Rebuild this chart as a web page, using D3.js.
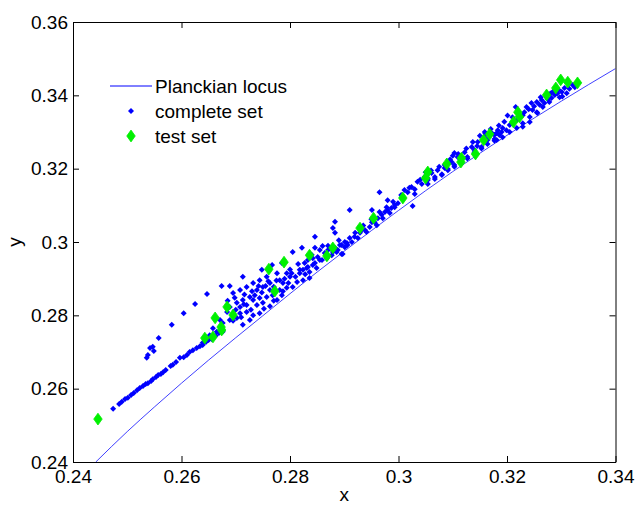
<!DOCTYPE html>
<html>
<head>
<meta charset="utf-8">
<script src="https://cdn.jsdelivr.net/npm/d3@7"></script>
<style>
  body { margin: 0; background: #fff; }
  svg text { font-family: "Liberation Sans", Arial, sans-serif; fill: #000; }
</style>
</head>
<body>
<div id="chart"></div>
<script>
// chromaticity data (x, y)
const locus = [
  [0.2442, 0.2400], [0.2500, 0.2483], [0.2550, 0.2550], [0.2600, 0.2615], [0.2650, 0.2678],
  [0.2700, 0.2739], [0.2750, 0.2799], [0.2800, 0.2859], [0.2850, 0.2918], [0.2900, 0.2975],
  [0.2950, 0.3031], [0.3000, 0.3086], [0.3050, 0.3140], [0.3100, 0.3192], [0.3150, 0.3242],
  [0.3200, 0.3291], [0.3250, 0.3338], [0.3300, 0.3384], [0.3350, 0.3429], [0.3400, 0.3473]
]

const completeSet = [
  // lower-left band
  [0.2474, 0.2545], [0.2485, 0.2558], [0.2490, 0.2564], [0.2496, 0.2572], [0.2501, 0.2575],
  [0.2507, 0.2583], [0.2512, 0.2588], [0.2518, 0.2596], [0.2523, 0.2602], [0.2529, 0.2607],
  [0.2534, 0.2613], [0.2538, 0.2615], [0.2544, 0.2621], [0.2547, 0.2626], [0.2553, 0.2632],
  [0.2557, 0.2637], [0.2562, 0.2640], [0.2566, 0.2645], [0.2571, 0.2651], [0.2580, 0.2662],
  [0.2584, 0.2665], [0.2590, 0.2673], [0.2597, 0.2684], [0.2604, 0.2686], [0.2610, 0.2692],
  [0.2615, 0.2700], [0.2621, 0.2705], [0.2628, 0.2711], [0.2634, 0.2716], [0.2639, 0.2719],
  [0.2645, 0.2727], [0.2650, 0.2733], [0.2656, 0.2735], [0.2663, 0.2744], [0.2669, 0.2752],
  [0.2674, 0.2757],
  // upper stragglers
  [0.2536, 0.2684], [0.2538, 0.2692], [0.2542, 0.2711], [0.2547, 0.2714], [0.2549, 0.2703],
  [0.2558, 0.2738], [0.2582, 0.2774], [0.2604, 0.2806], [0.2625, 0.2831], [0.2647, 0.2858],
  [0.2674, 0.2880], [0.2689, 0.2880], [0.2713, 0.2905],
  // cloud 0.266 - 0.29
  [0.2748, 0.2924], [0.2767, 0.2937], [0.2785, 0.2943], [0.2805, 0.2973], [0.2822, 0.2984],
  [0.2860, 0.2989], [0.2897, 0.2967], [0.2803, 0.2915], [0.2818, 0.2924],
  [0.2695, 0.2861], [0.2708, 0.2869], [0.2720, 0.2877], [0.2732, 0.2888], [0.2744, 0.2896],
  [0.2757, 0.2905], [0.2739, 0.2869], [0.2726, 0.2850], [0.2713, 0.2842], [0.2702, 0.2834],
  [0.2750, 0.2877], [0.2763, 0.2888], [0.2776, 0.2915], [0.2781, 0.2896], [0.2794, 0.2915],
  [0.2708, 0.2823], [0.2720, 0.2828], [0.2732, 0.2842], [0.2744, 0.2847], [0.2757, 0.2850],
  [0.2763, 0.2869], [0.2787, 0.2888], [0.2800, 0.2905], [0.2818, 0.2915], [0.2831, 0.2929],
  [0.2842, 0.2937], [0.2855, 0.2951], [0.2868, 0.2959], [0.2879, 0.2973], [0.2892, 0.2992],
  [0.2905, 0.2997], [0.2849, 0.2929], [0.2836, 0.2918], [0.2824, 0.2924], [0.2689, 0.2823],
  [0.2684, 0.2809], [0.2695, 0.2801], [0.2708, 0.2806], [0.2671, 0.2787], [0.2676, 0.2779],
  [0.2689, 0.2787], [0.2702, 0.2793], [0.2658, 0.2765], [0.2665, 0.2755], [0.2652, 0.2746],
  [0.2647, 0.2733], [0.2639, 0.2725], [0.2676, 0.2755], [0.2720, 0.2809], [0.2739, 0.2828],
  [0.2750, 0.2834], [0.2768, 0.2855], [0.2781, 0.2869], [0.2794, 0.2875], [0.2805, 0.2877],
  [0.2787, 0.2866], [0.2824, 0.2896], [0.2836, 0.2902], [0.2813, 0.2891],
  [0.2713, 0.2774], [0.2726, 0.2787], [0.2744, 0.2806], [0.2763, 0.2825], [0.2776, 0.2842],
  [0.2840, 0.2965], [0.2855, 0.2978], [0.2870, 0.2990], [0.2890, 0.3005], [0.2815, 0.2940],
  [0.2800, 0.2925], [0.2700, 0.2815], [0.2715, 0.2830], [0.2728, 0.2815], [0.2735, 0.2855],
  [0.2748, 0.2862], [0.2755, 0.2880], [0.2770, 0.2878], [0.2775, 0.2895], [0.2790, 0.2900],
  [0.2797, 0.2888], [0.2810, 0.2905], [0.2828, 0.2912], [0.2716, 0.2857], [0.2730, 0.2866],
  [0.2742, 0.2880], [0.2760, 0.2893], [0.2698, 0.2848], [0.2685, 0.2840], [0.2752, 0.2818],
  [0.2770, 0.2840], [0.2785, 0.2855], [0.2695, 0.2785], [0.2710, 0.2795], [0.2732, 0.2800],
  // 0.28 - 0.30
  [0.2965, 0.3136], [0.2910, 0.3087], [0.2951, 0.3087], [0.2883, 0.3055], [0.2879, 0.3038],
  [0.2883, 0.3025], [0.2846, 0.3014], [0.2846, 0.2984], [0.2895, 0.2967], [0.2980, 0.3114],
  [0.2993, 0.3101],
  [0.2827, 0.2943], [0.2833, 0.2951], [0.2842, 0.2956], [0.2851, 0.2959], [0.2864, 0.2970],
  [0.2870, 0.2978], [0.2883, 0.2984], [0.2895, 0.2992], [0.2901, 0.3000], [0.2910, 0.3011],
  [0.2919, 0.3014], [0.2929, 0.3025], [0.2938, 0.3033], [0.2947, 0.3041], [0.2956, 0.3054],
  [0.2962, 0.3065], [0.2969, 0.3074], [0.2975, 0.3082], [0.2980, 0.3087], [0.2987, 0.3093],
  [0.2993, 0.3095], [0.2999, 0.3106], [0.2833, 0.2932], [0.2846, 0.2943], [0.2859, 0.2951],
  [0.2877, 0.2964], [0.2888, 0.2978], [0.2906, 0.2992], [0.2925, 0.3011], [0.2941, 0.3027],
  [0.2960, 0.3046], [0.2971, 0.3065], [0.2984, 0.3079], [0.2978, 0.3095], [0.2965, 0.3082],
  [0.2951, 0.3054], [0.2932, 0.3033], [0.2914, 0.3000], [0.2901, 0.2986], [0.2886, 0.2973],
  [0.2868, 0.2956], [0.2920, 0.3025], [0.2935, 0.3045], [0.2950, 0.3062], [0.2990, 0.3110],
  // 0.30 - 0.32
  [0.3017, 0.3136], [0.3030, 0.3144], [0.3043, 0.3158], [0.3054, 0.3169], [0.3067, 0.3177],
  [0.3080, 0.3185], [0.3091, 0.3199], [0.3103, 0.3210], [0.3116, 0.3218], [0.3127, 0.3232],
  [0.3140, 0.3245], [0.3153, 0.3259], [0.3164, 0.3267], [0.3177, 0.3281], [0.3190, 0.3300],
  [0.3011, 0.3142], [0.3024, 0.3150], [0.3035, 0.3164], [0.3048, 0.3177], [0.3061, 0.3188],
  [0.3072, 0.3196], [0.3085, 0.3210], [0.3098, 0.3218], [0.3109, 0.3232], [0.3122, 0.3245],
  [0.3135, 0.3259], [0.3146, 0.3273], [0.3159, 0.3286], [0.3172, 0.3297], [0.3183, 0.3305],
  [0.3006, 0.3120], [0.3030, 0.3131], [0.3054, 0.3158], [0.3080, 0.3183], [0.3103, 0.3205],
  [0.3127, 0.3228], [0.3153, 0.3255], [0.3177, 0.3276],
  [0.3026, 0.3098], [0.3103, 0.3243], [0.3137, 0.3273], [0.3159, 0.3300], [0.3054, 0.3174],
  [0.3085, 0.3202], [0.3116, 0.3224], [0.3140, 0.3251], [0.3164, 0.3278], [0.3177, 0.3292],
  [0.3067, 0.3172], [0.3091, 0.3196], [0.3201, 0.3345], [0.3150, 0.3290], [0.3100, 0.3235],
  [0.3050, 0.3190], [0.3005, 0.3128], [0.3020, 0.3148], [0.3040, 0.3170], [0.3060, 0.3195],
  [0.3075, 0.3205], [0.3095, 0.3225], [0.3110, 0.3240], [0.3125, 0.3255], [0.3145, 0.3262],
  [0.3160, 0.3295], [0.3170, 0.3308], [0.3185, 0.3318], [0.3195, 0.3328],
  // 0.32 - 0.335
  [0.3181, 0.3297], [0.3192, 0.3311], [0.3205, 0.3319], [0.3218, 0.3333], [0.3229, 0.3346],
  [0.3236, 0.3368], [0.3245, 0.3379], [0.3255, 0.3382], [0.3264, 0.3387], [0.3273, 0.3395],
  [0.3284, 0.3409], [0.3291, 0.3420], [0.3306, 0.3420], [0.3310, 0.3406], [0.3312, 0.3434],
  [0.3181, 0.3278], [0.3192, 0.3286], [0.3205, 0.3300], [0.3218, 0.3311], [0.3229, 0.3324],
  [0.3242, 0.3341], [0.3255, 0.3354], [0.3266, 0.3368], [0.3278, 0.3382], [0.3297, 0.3395],
  [0.3186, 0.3292], [0.3199, 0.3305], [0.3210, 0.3324], [0.3223, 0.3338], [0.3232, 0.3354],
  [0.3247, 0.3360], [0.3260, 0.3374], [0.3275, 0.3390], [0.3288, 0.3401], [0.3301, 0.3409],
  [0.3256, 0.3352], [0.3269, 0.3379], [0.3282, 0.3393], [0.3293, 0.3406], [0.3242, 0.3327],
  [0.3229, 0.3314], [0.3321, 0.3428], [0.3302, 0.3397], [0.3210, 0.3340], [0.3220, 0.3352],
  [0.3240, 0.3362], [0.3250, 0.3370], [0.3262, 0.3395], [0.3280, 0.3405], [0.3295, 0.3415],
  [0.3315, 0.3418], [0.3325, 0.3422], [0.3216, 0.3368]
]

const testSet = [
  [0.2446, 0.2517], [0.2643, 0.2738], [0.2658, 0.2741], [0.2662, 0.2793], [0.2673, 0.2768],
  [0.2674, 0.2760], [0.2684, 0.2823], [0.2695, 0.2801], [0.2761, 0.2926], [0.2772, 0.2866],
  [0.2789, 0.2945], [0.2836, 0.2964], [0.2868, 0.2962], [0.2879, 0.2984], [0.2929, 0.3038],
  [0.2954, 0.3065], [0.3008, 0.3120], [0.3050, 0.3174], [0.3054, 0.3191], [0.3089, 0.3213],
  [0.3115, 0.3218], [0.3116, 0.3229], [0.3142, 0.3240], [0.3157, 0.3278], [0.3168, 0.3294],
  [0.3212, 0.3327], [0.3220, 0.3354], [0.3223, 0.3341], [0.3273, 0.3401], [0.3290, 0.3420],
  [0.3299, 0.3442], [0.3312, 0.3436], [0.3330, 0.3434]
]

const xTicks = [0.24, 0.26, 0.28, 0.3, 0.32, 0.34]
const xTickLabels = ['0.24', '0.26', '0.28', '0.3', '0.32', '0.34']
const yTicks = [0.24, 0.26, 0.28, 0.3, 0.32, 0.34, 0.36]
const yTickLabels = ['0.24', '0.26', '0.28', '0.3', '0.32', '0.34', '0.36']
const legendLabels = ['Planckian locus', 'complete set', 'test set']

const width = 636
const height = 506
const margin = { top: 22, right: 20, bottom: 44, left: 73 }
const blue = '#0000ff'
const green = '#00f000'
const fontSize = 19

const svg = d3
  .select('#chart')
  .append('svg')
  .attr('width', width)
  .attr('height', height)
  .attr('viewBox', [0, 0, width, height])

const x = d3
  .scaleLinear()
  .domain([0.24, 0.34])
  .range([margin.left, width - margin.right - 0.5])

const y = d3
  .scaleLinear()
  .domain([0.24, 0.36])
  .range([height - margin.bottom, margin.top])

svg
  .append('clipPath')
  .attr('id', 'plot-clip')
  .append('rect')
  .attr('x', x(0.24))
  .attr('y', y(0.36))
  .attr('width', x(0.34) - x(0.24))
  .attr('height', y(0.24) - y(0.36))

const plot = svg.append('g').attr('clip-path', 'url(#plot-clip)')

// locus goes in first, markers sit on top of it
plot
  .append('path')
  .datum(locus)
  .attr('fill', 'none')
  .attr('stroke', blue)
  .attr('stroke-opacity', 0.75)
  .attr('stroke-width', 1)
  .attr('d', d3.line().x((d) => x(d[0])).y((d) => y(d[1])).curve(d3.curveMonotoneX))

// matlab 'd' marker: diamond a bit taller than wide
const matlabDiamond = {
  draw(context, size) {
    const h = Math.sqrt(size / 1.44)
    const w = 0.72 * h
    context.moveTo(0, -h)
    context.lineTo(w, 0)
    context.lineTo(0, h)
    context.lineTo(-w, 0)
    context.closePath()
  }
}

const dot = d3.symbol(d3.symbolSquare, 18)
const diamond = d3.symbol(matlabDiamond, 50)

plot
  .append('g')
  .selectAll('path')
  .data(completeSet)
  .join('path')
  .attr('d', dot)
  .attr('transform', (d) => `translate(${x(d[0])},${y(d[1])}) rotate(45)`)
  .attr('fill', blue)

plot
  .append('g')
  .selectAll('path')
  .data(testSet)
  .join('path')
  .attr('d', diamond)
  .attr('transform', (d) => `translate(${x(d[0])},${y(d[1])})`)
  .attr('fill', green)
  .attr('stroke', green)
  .attr('stroke-width', 0.8)

// axes, ticks pointing inward like matlab
const styleAxis = (g) => {
  g.selectAll('.domain').attr('stroke', '#000')
  g.selectAll('.tick line').attr('stroke', '#000')
  g.selectAll('text').attr('font-size', fontSize).attr('fill', '#000')
  g.attr('font-family', null)
}

svg
  .append('g')
  .attr('transform', `translate(0,${y(0.24)})`)
  .call(
    d3.axisBottom(x)
      .tickValues(xTicks)
      .tickFormat((d, i) => xTickLabels[i])
      .tickSizeInner(-6)
      .tickSizeOuter(0)
      .tickPadding(8)
  )
  .call(styleAxis)

svg
  .append('g')
  .attr('transform', `translate(0,${y(0.36)})`)
  .call(d3.axisTop(x).tickValues(xTicks).tickFormat('').tickSizeInner(-6).tickSizeOuter(0))
  .call(styleAxis)

svg
  .append('g')
  .attr('transform', `translate(${x(0.24)},0)`)
  .call(
    d3.axisLeft(y)
      .tickValues(yTicks)
      .tickFormat((d, i) => yTickLabels[i])
      .tickSizeInner(-6)
      .tickSizeOuter(0)
      .tickPadding(5)
  )
  .call(styleAxis)

svg
  .append('g')
  .attr('transform', `translate(${x(0.34)},0)`)
  .call(d3.axisRight(y).tickValues(yTicks).tickFormat('').tickSizeInner(-6).tickSizeOuter(0))
  .call(styleAxis)

svg
  .append('text')
  .attr('x', (x(0.24) + x(0.34)) / 2)
  .attr('y', 501)
  .attr('text-anchor', 'middle')
  .attr('font-size', fontSize)
  .text('x')

svg
  .append('text')
  .attr('transform', `translate(21,${(y(0.24) + y(0.36)) / 2}) rotate(-90)`)
  .attr('text-anchor', 'middle')
  .attr('font-size', fontSize)
  .text('y')

// legend (no box)
const legend = svg.append('g').attr('transform', 'translate(110,86)')
const rowGap = 25

legend
  .append('line')
  .attr('x1', 0)
  .attr('x2', 42)
  .attr('y1', 0)
  .attr('y2', 0)
  .attr('stroke', blue)
  .attr('stroke-width', 1)

legend
  .append('path')
  .attr('d', dot)
  .attr('transform', `translate(21,${rowGap}) rotate(45)`)
  .attr('fill', blue)

legend
  .append('path')
  .attr('d', diamond)
  .attr('transform', `translate(21,${rowGap * 2})`)
  .attr('fill', green)
  .attr('stroke', green)
  .attr('stroke-width', 0.8)

legend
  .selectAll('text')
  .data(legendLabels)
  .join('text')
  .attr('x', 45)
  .attr('y', (d, i) => i * rowGap)
  .attr('dy', '0.36em')
  .attr('font-size', fontSize)
  .text((d) => d)
</script>
</body>
</html>
